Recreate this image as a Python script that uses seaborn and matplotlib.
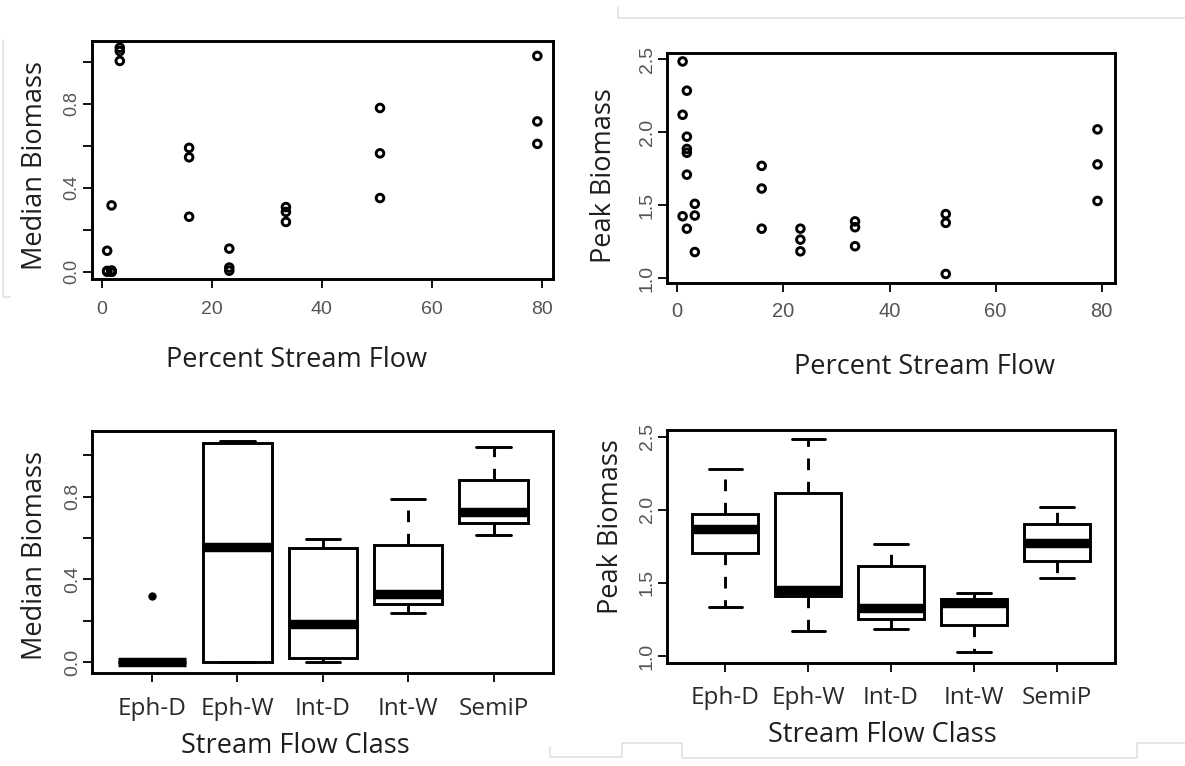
import matplotlib
matplotlib.use("Agg")
import matplotlib.pyplot as plt
from matplotlib.lines import Line2D
import pandas as pd
import seaborn as sns

# ---------------- data ----------------
# one entry per site (scatter panels)
flow_pct = [1.0, 1.0, 1.0, 1.8, 1.8, 1.8, 1.8, 1.8, 1.8, 3.3, 3.3, 3.3,
            15.9, 15.9, 15.9, 23.2, 23.2, 23.2, 33.5, 33.5, 33.5,
            50.6, 50.6, 50.6, 79.2, 79.2, 79.2]
median_biomass = [0.100, 0.004, 0.000, 0.316, 0.006, 0.003, 0.000, 0.000, 0.002,
                  1.067, 1.051, 1.004, 0.590, 0.545, 0.262, 0.110, 0.020, 0.005,
                  0.308, 0.285, 0.237, 0.780, 0.564, 0.351, 1.028, 0.716, 0.609]
peak_biomass = [2.485, 2.12, 1.425, 2.285, 1.97, 1.886, 1.86, 1.71, 1.34,
                1.51, 1.43, 1.18, 1.77, 1.615, 1.34, 1.34, 1.265, 1.185,
                1.39, 1.35, 1.22, 1.44, 1.38, 1.03, 2.02, 1.78, 1.53]

flow_classes = ["Eph-D", "Eph-W", "Int-D", "Int-W", "SemiP"]

# box panels: values (whisker ends, hinges, medians, outlier)
median_box_class = ["Eph-D", "Eph-D", "Eph-D", "Eph-D", "Eph-D", "Eph-D",
                    "Eph-W", "Eph-W", "Eph-W", "Eph-W", "Eph-W",
                    "Int-D", "Int-D", "Int-D", "Int-D", "Int-D",
                    "Int-W", "Int-W", "Int-W", "Int-W", "Int-W",
                    "SemiP", "SemiP", "SemiP", "SemiP", "SemiP"]
median_box_value = [0.0, 0.0, 0.0, 0.0, 0.0, 0.32,
                    0.0, 0.0, 0.559, 1.061, 1.071,
                    0.003, 0.019, 0.184, 0.554, 0.594,
                    0.240, 0.282, 0.330, 0.567, 0.789,
                    0.617, 0.671, 0.725, 0.881, 1.042]
peak_box_class = ["Eph-D", "Eph-D", "Eph-D", "Eph-D", "Eph-D",
                  "Eph-W", "Eph-W", "Eph-W", "Eph-W", "Eph-W",
                  "Int-D", "Int-D", "Int-D", "Int-D", "Int-D",
                  "Int-W", "Int-W", "Int-W", "Int-W", "Int-W",
                  "SemiP", "SemiP", "SemiP", "SemiP", "SemiP"]
peak_box_value = [1.337, 1.707, 1.867, 1.969, 2.279,
                  1.171, 1.410, 1.451, 2.113, 2.484,
                  1.183, 1.251, 1.326, 1.616, 1.764,
                  1.025, 1.212, 1.361, 1.388, 1.433,
                  1.531, 1.652, 1.775, 1.901, 2.021]

median_ticks = [0.0, 0.2, 0.4, 0.6, 0.8, 1.0]
median_ticklabels = ["0.0", "", "0.4", "", "0.8", ""]
peak_ticks = [1.0, 1.5, 2.0, 2.5]
peak_ticklabels = ["1.0", "1.5", "2.0", "2.5"]
flow_ticks = [0, 20, 40, 60, 80]

# ---------------- style ----------------
sns.set_theme(style="ticks")
plt.rcParams["font.family"] = ["Liberation Sans", "DejaVu Sans"]

W, H = 1185, 766
fig = plt.figure(figsize=(W / 100, H / 100), dpi=100)
fig.patch.set_facecolor("white")


def add_ax(left, top, right, bottom):
    return fig.add_axes([left / W, 1 - bottom / H, (right - left) / W, (bottom - top) / H])


LABEL_FONT = "Open Sans"
LABEL_SIZE = 19.5
LABEL_COLOR = "#1e1e1e"
NUM_COLOR = "#555555"


def style_frame(ax):
    for s in ax.spines.values():
        s.set_visible(True)
        s.set_color("black")
        s.set_linewidth(2.1)
    ax.tick_params(direction="out", length=6.5, width=1.3, color="black")
    ax.set_xlabel("")
    ax.set_ylabel("")


def fig_label(x, y, text, rotation=0, size=LABEL_SIZE):
    fig.text(x / W, 1 - y / H, text, rotation=rotation, rotation_mode="anchor",
             ha="center", va="baseline", fontsize=size, family=LABEL_FONT,
             color=LABEL_COLOR)


scatter_df = pd.DataFrame({"flow": flow_pct, "median": median_biomass, "peak": peak_biomass})
median_box_df = pd.DataFrame({"cls": median_box_class, "val": median_box_value})
peak_box_df = pd.DataFrame({"cls": peak_box_class, "val": peak_box_value})

scatter_kws = dict(marker="o", s=30, facecolor="none", edgecolor="black", linewidth=2.1,
                   color="black", legend=False)

# ---- top-left: median vs flow
ax1 = add_ax(92.3, 41, 553, 279.3)
sns.scatterplot(data=scatter_df, x="flow", y="median", ax=ax1, **scatter_kws)
ax1.set_xlim(-1.7, 82.05)
ax1.set_ylim(-0.036, 1.099)
ax1.set_xticks(flow_ticks)
ax1.set_xticklabels([str(t) for t in flow_ticks], fontsize=14, color=NUM_COLOR)
ax1.set_yticks(median_ticks)
ax1.set_yticklabels(median_ticklabels, rotation=90, va="center", fontsize=13, color=NUM_COLOR)
style_frame(ax1)
ax1.tick_params(axis="x", pad=9)
ax1.tick_params(axis="y", pad=2)

# ---- top-right: peak vs flow
ax2 = add_ax(666.7, 52.7, 1115, 283.3)
sns.scatterplot(data=scatter_df, x="flow", y="peak", ax=ax2, **scatter_kws)
ax2.set_xlim(-2.0, 82.5)
ax2.set_ylim(0.966, 2.545)
ax2.set_xticks(flow_ticks)
ax2.set_xticklabels([str(t) for t in flow_ticks], fontsize=14.5, color=NUM_COLOR)
ax2.set_yticks(peak_ticks)
ax2.set_yticklabels(peak_ticklabels, rotation=90, va="center", fontsize=14, color=NUM_COLOR)
style_frame(ax2)
ax2.tick_params(axis="x", pad=7)
ax2.tick_params(axis="y", pad=1.5)

box_kws = dict(order=flow_classes, color="white", linecolor="black", linewidth=2.1,
               width=0.8, saturation=1, whis=1.5, fliersize=5,
               medianprops=dict(linewidth=6.8, solid_capstyle="butt"),
               whiskerprops=dict(linestyle=(0, (4, 4))),
               flierprops=dict(marker="o", markerfacecolor="black", markeredgecolor="black"))

# ---- bottom-left: median by class
ax3 = add_ax(92.3, 431, 553.3, 672.7)
sns.boxplot(data=median_box_df, x="cls", y="val", ax=ax3, **box_kws)
ax3.set_xlim(-0.70, 4.70)
ax3.set_ylim(-0.05, 1.117)
ax3.set_yticks(median_ticks)
ax3.set_yticklabels(median_ticklabels, rotation=90, va="center", fontsize=14, color=NUM_COLOR)
ax3.set_xticks(range(len(flow_classes)))
ax3.set_xticklabels(flow_classes, fontsize=17.5, family=LABEL_FONT, color="#2a2a2a")
style_frame(ax3)
ax3.tick_params(axis="x", pad=11)
ax3.tick_params(axis="y", pad=1.5)

# ---- bottom-right: peak by class
ax4 = add_ax(666.7, 430, 1115, 663.3)
sns.boxplot(data=peak_box_df, x="cls", y="val", ax=ax4, **box_kws)
ax4.set_xlim(-0.705, 4.70)
ax4.set_ylim(0.95, 2.546)
ax4.set_yticks(peak_ticks)
ax4.set_yticklabels(peak_ticklabels, rotation=90, va="center", fontsize=14, color=NUM_COLOR)
ax4.set_xticks(range(len(flow_classes)))
ax4.set_xticklabels(flow_classes, fontsize=17.5, family=LABEL_FONT, color="#2a2a2a")
style_frame(ax4)
ax4.tick_params(axis="x", pad=10)
ax4.tick_params(axis="y", pad=1.5)

# ---- axis titles
fig_label(42, 166, "Median Biomass", rotation=90)
fig_label(296, 367, "Percent Stream Flow")
fig_label(611, 176, "Peak Biomass", rotation=90)
fig_label(925, 374, "Percent Stream Flow")
fig_label(42, 556, "Median Biomass", rotation=90)
fig_label(295, 753, "Stream Flow Class")
fig_label(618, 527, "Peak Biomass", rotation=90)
fig_label(882, 742, "Stream Flow Class")

# ---- faint edges of the pasted panel images
EDGE = "#e2e2e2"
edge_paths = [
    [(618, 7), (618, 18), (1185, 18)],
    [(3, 40), (3, 297), (10, 297)],
    [(550, 747), (550, 757), (622, 757), (622, 743), (682, 743),
     (682, 758), (1137, 758), (1137, 743), (1185, 743)],
]
for path in edge_paths:
    xs = [p[0] / W for p in path]
    ys = [1 - p[1] / H for p in path]
    fig.add_artist(Line2D(xs, ys, transform=fig.transFigure, color=EDGE, linewidth=1.2))

fig.savefig("out.png", dpi=100, facecolor="white")
